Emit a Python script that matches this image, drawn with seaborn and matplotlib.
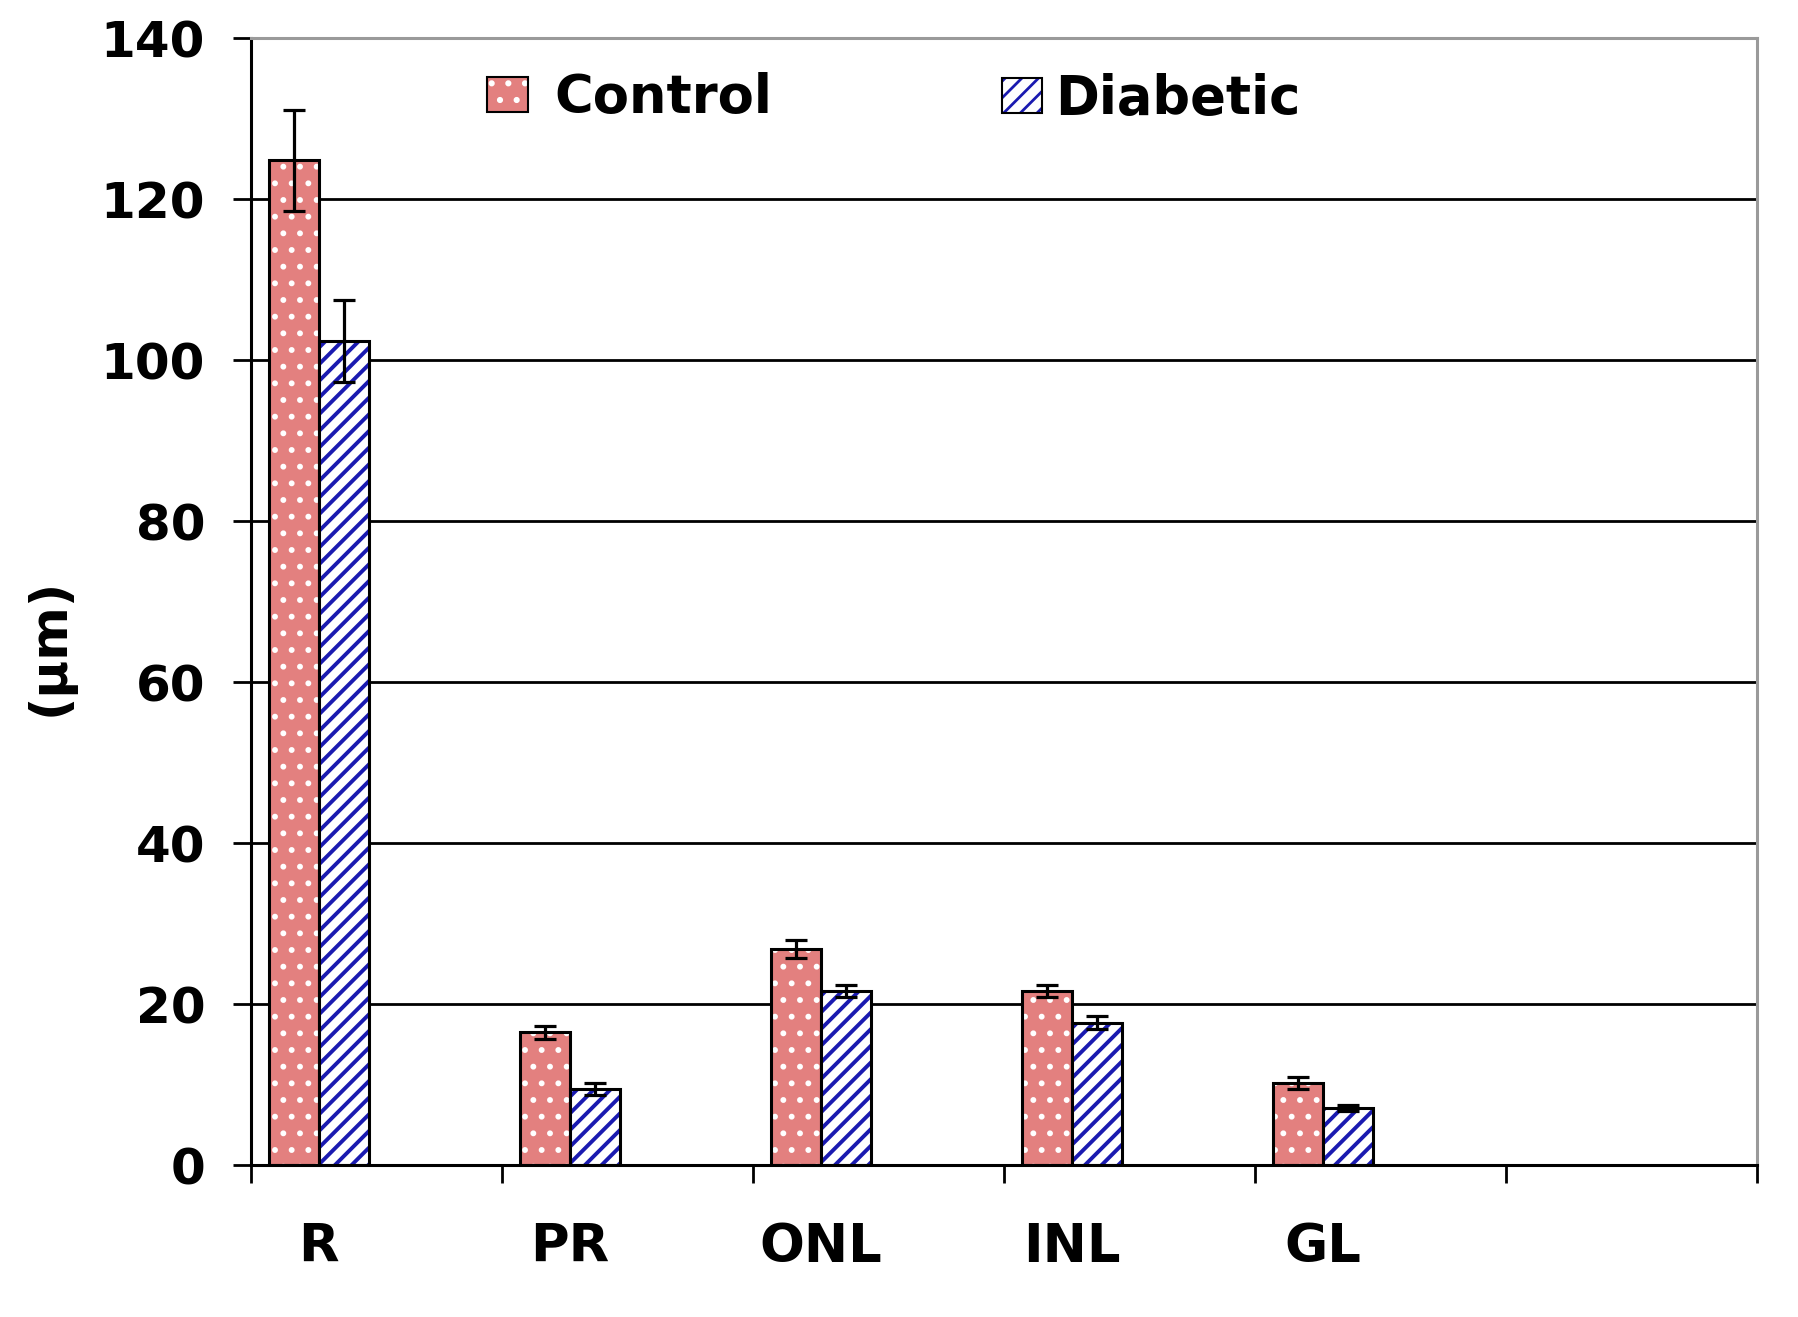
import numpy as np
import pandas as pd
import seaborn as sns
import matplotlib
matplotlib.use("Agg")
from matplotlib import pyplot as plt
from matplotlib import patches as mpatches
from matplotlib.colors import to_rgba

# retinal layer thickness (um), mean and error
layers = ["R", "PR", "ONL", "INL", "GL"]
groups = ["Control", "Diabetic"]
control = [124.8, 16.5, 26.8, 21.6, 10.2]
control_err = [6.3, 0.8, 1.1, 0.75, 0.75]
diabetic = [102.4, 9.5, 21.6, 17.7, 7.1]
diabetic_err = [5.1, 0.75, 0.75, 0.8, 0.35]

df = pd.DataFrame({
    "layer": layers * 2,
    "group": ["Control"] * len(layers) + ["Diabetic"] * len(layers),
    "thickness": control + diabetic,
})

pink = "#E3807F"
blue = "#1A1AB0"

sns.set_theme(style="white")
plt.rcParams["font.family"] = ["DejaVu Sans"]
plt.rcParams["font.weight"] = "bold"
plt.rcParams["text.color"] = "black"
plt.rcParams["xtick.color"] = "black"
plt.rcParams["ytick.color"] = "black"
plt.rcParams["axes.labelcolor"] = "black"
plt.rcParams["hatch.linewidth"] = 2.0

# empty slot at the end and two unused hue levels, like the Excel original
order = layers + [" "]
hue_order = groups + ["pad1", "pad2"]
palette = {"Control": pink, "Diabetic": "white", "pad1": "white", "pad2": "white"}

fig = plt.figure(figsize=(17.99, 13.17), dpi=100)
ax = fig.add_axes([0.1395, 0.1154, 0.8372, 0.8557])
sns.barplot(data=df, x="layer", y="thickness", hue="group", order=order,
            hue_order=hue_order, palette=palette, width=0.8, saturation=1,
            errorbar=None, edgecolor="black", linewidth=2.2, legend=False, ax=ax)

# hatch, hatch colour, hatch line width
hatches = {"Control": (".", "white", 1.8), "Diabetic": ("//", blue, 2.8)}


def style_hatch(p, grp):
    hatch, hcol, hlw = hatches[grp]
    p.set_hatch(hatch)
    p._hatch_color = to_rgba(hcol)
    if hasattr(p, "set_hatch_linewidth"):
        p.set_hatch_linewidth(hlw)
    else:
        p._hatch_linewidth = hlw


centers = []
for cont, grp, vals, errs in zip(ax.containers, groups, [control, diabetic],
                                 [control_err, diabetic_err]):
    xs = []
    for bar in cont:
        style_hatch(bar, grp)
        xs.append(bar.get_x() + bar.get_width() / 2)
    centers.append(xs)
    ax.errorbar(xs, vals, yerr=errs, fmt="none", ecolor="black",
                elinewidth=2.3, capsize=8, capthick=2.3, zorder=5)

pair_centers = np.mean(centers, axis=0)

shift = 0.03
ax.set_xlim(-0.5 + shift, len(order) - 0.5 + shift)
ax.set_ylim(0, 140)
ax.set_yticks(range(0, 141, 20))
ax.set_xticks(np.arange(len(order) + 1) - 0.5 + shift)
ax.set_xticklabels([])
ax.set_xticks(pair_centers, labels=layers, minor=True)
ax.tick_params(axis="x", which="major", direction="out", length=13, width=2,
               color="black", bottom=True)
ax.tick_params(axis="x", which="minor", length=0, pad=40, labelsize=38)
ax.tick_params(axis="y", direction="out", length=13, width=2, color="black",
               left=True, pad=20, labelsize=36)

ax.grid(axis="y", color="black", lw=2)
ax.set_axisbelow(True)
ax.get_ygridlines()[-1].set_visible(False)

for side in ["left", "bottom"]:
    ax.spines[side].set_color("black")
    ax.spines[side].set_linewidth(2.2)
for side in ["top", "right"]:
    ax.spines[side].set_color("#9a9a9a")
    ax.spines[side].set_linewidth(2.2)

ax.set_xlabel("")
ax.set_ylabel("(µm)", fontsize=37, fontweight="bold")
ax.yaxis.set_label_coords(-0.117, 0.46)

ctrl_handle = mpatches.Patch(facecolor=pink, edgecolor="black", linewidth=1.5)
style_hatch(ctrl_handle, "Control")
diab_handle = mpatches.Patch(facecolor="white", edgecolor="black", linewidth=1.5)
style_hatch(diab_handle, "Diabetic")

leg1 = ax.legend([ctrl_handle], ["Control"], loc="center left",
                 bbox_to_anchor=(0.157, 0.947), frameon=False, fontsize=38,
                 handlelength=0.76, handleheight=0.65, handletextpad=0.5,
                 borderpad=0, borderaxespad=0)
ax.add_artist(leg1)
ax.legend([diab_handle], ["Diabetic"], loc="center left",
          bbox_to_anchor=(0.4987, 0.946), frameon=False, fontsize=38,
          handlelength=0.76, handleheight=0.65, handletextpad=0.25,
          borderpad=0, borderaxespad=0)

plt.savefig("out.png", dpi=100)
plt.close()
